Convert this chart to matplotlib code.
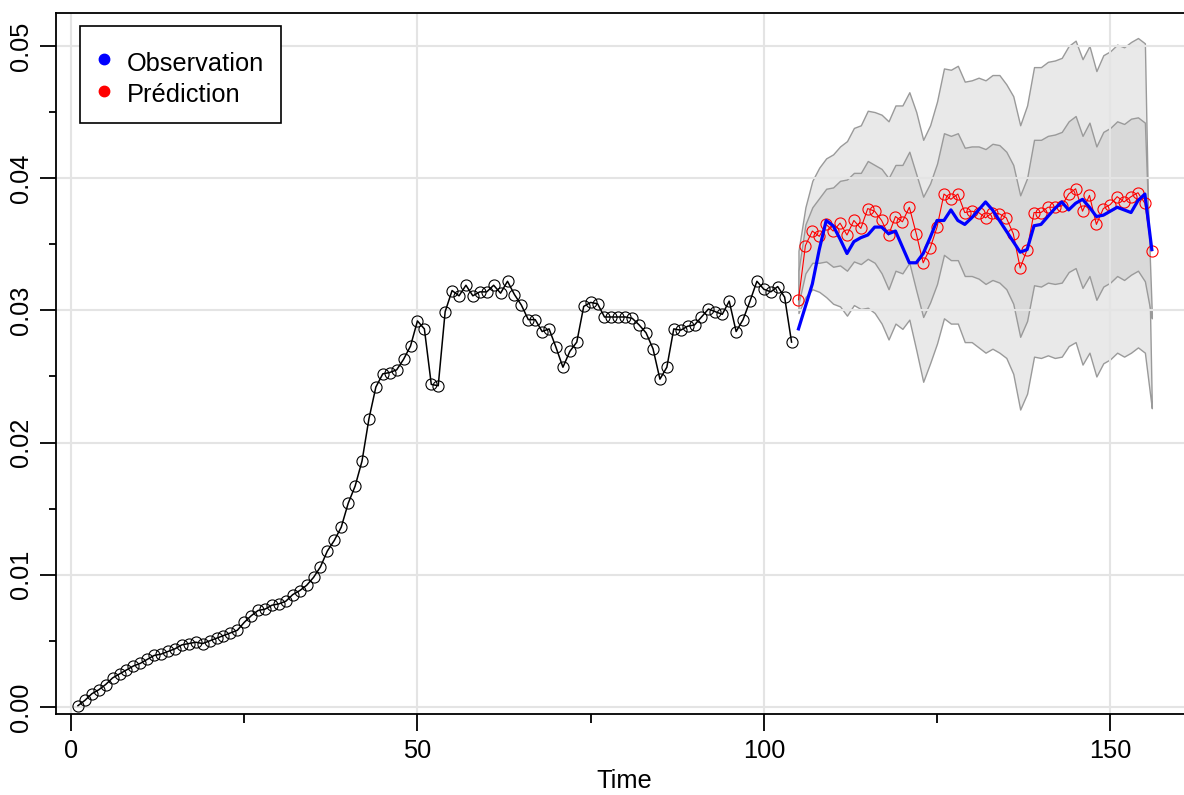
import matplotlib
matplotlib.use("Agg")
import matplotlib.pyplot as plt
from matplotlib.lines import Line2D
from matplotlib.patches import Rectangle
import numpy as np

plt.rcParams['font.family'] = ['Liberation Sans', 'DejaVu Sans']

# ---- historical series (t = 1..104) ----
hist_time = list(range(1, 105))
hist_values = [
    0.0001, 0.0005, 0.0010, 0.0013, 0.0017, 0.0022, 0.0025, 0.0028, 0.0031, 0.0033,
    0.0036, 0.0039, 0.0040, 0.0042, 0.0044, 0.0047, 0.0048, 0.0049, 0.0048, 0.0050,
    0.0052, 0.0054, 0.0056, 0.0058, 0.0064, 0.0069, 0.0073, 0.0074, 0.0077, 0.0078,
    0.0080, 0.0085, 0.0088, 0.0092, 0.0098, 0.0106, 0.0118, 0.0126, 0.0136, 0.0154,
    0.0167, 0.0186, 0.0218, 0.0242, 0.0252, 0.0253, 0.0255, 0.0263, 0.0273, 0.0292,
    0.0286, 0.0244, 0.0243, 0.0299, 0.0315, 0.0311, 0.0319, 0.0311, 0.0314, 0.0314,
    0.0319, 0.0313, 0.0322, 0.0312, 0.0304, 0.0293, 0.0293, 0.0284, 0.0286, 0.0272,
    0.0257, 0.0269, 0.0276, 0.0303, 0.0306, 0.0305, 0.0295, 0.0295, 0.0295, 0.0295,
    0.0294, 0.0289, 0.0283, 0.0271, 0.0248, 0.0257, 0.0286, 0.0285, 0.0288, 0.0289,
    0.0295, 0.0301, 0.0299, 0.0297, 0.0307, 0.0284, 0.0293, 0.0307, 0.0322, 0.0316,
    0.0314, 0.0318, 0.0310, 0.0276,
]

# ---- forecast horizon (t = 105..156) ----
fc_time = list(range(105, 157))
prediction = [
    0.0308, 0.0349, 0.0360, 0.0356, 0.0365, 0.0360, 0.0366, 0.0357, 0.0368, 0.0362,
    0.0377, 0.0375, 0.0368, 0.0357, 0.0371, 0.0367, 0.0378, 0.0358, 0.0336, 0.0347,
    0.0363, 0.0388, 0.0384, 0.0388, 0.0374, 0.0375, 0.0374, 0.0370, 0.0374, 0.0373,
    0.0370, 0.0358, 0.0332, 0.0346, 0.0374, 0.0374, 0.0378, 0.0378, 0.0379, 0.0388,
    0.0392, 0.0375, 0.0387, 0.0365, 0.0377, 0.0380, 0.0386, 0.0382, 0.0386, 0.0389,
    0.0381, 0.0345,
]
observation = [
    0.0286, 0.0303, 0.0320, 0.0346, 0.0368, 0.0364, 0.0354, 0.0343, 0.0352, 0.0355,
    0.0357, 0.0363, 0.0363, 0.0358, 0.0360, 0.0348, 0.0336, 0.0336, 0.0343, 0.0355,
    0.0368, 0.0368, 0.0376, 0.0368, 0.0365, 0.0370, 0.0376, 0.0382, 0.0376, 0.0368,
    0.0360, 0.0352, 0.0344, 0.0346, 0.0364, 0.0365, 0.0371, 0.0377, 0.0382, 0.0376,
    0.0381, 0.0384, 0.0378, 0.0371, 0.0372, 0.0375, 0.0378, 0.0376, 0.0374, 0.0383,
    0.0388, 0.0346,
]
outer_upper = [
    0.0345, 0.0378, 0.0398, 0.0408, 0.0415, 0.0418, 0.0424, 0.0428, 0.0438, 0.0440,
    0.0451, 0.0450, 0.0448, 0.0443, 0.0455, 0.0455, 0.0465, 0.0450, 0.0429, 0.0440,
    0.0458, 0.0483, 0.0482, 0.0485, 0.0473, 0.0474, 0.0476, 0.0474, 0.0478, 0.0478,
    0.0471, 0.0462, 0.0440, 0.0455, 0.0484, 0.0484, 0.0488, 0.0489, 0.0491, 0.0500,
    0.0504, 0.0490, 0.0500, 0.0481, 0.0493, 0.0496, 0.0501, 0.0499, 0.0503, 0.0506,
    0.0502, 0.0228,
]
inner_upper = [
    0.0330, 0.0365, 0.0378, 0.0385, 0.0392, 0.0393, 0.0398, 0.0399, 0.0404, 0.0404,
    0.0413, 0.0410, 0.0407, 0.0400, 0.0410, 0.0410, 0.0420, 0.0403, 0.0386, 0.0396,
    0.0411, 0.0434, 0.0432, 0.0434, 0.0423, 0.0424, 0.0424, 0.0422, 0.0426, 0.0425,
    0.0420, 0.0410, 0.0387, 0.0400, 0.0429, 0.0429, 0.0432, 0.0433, 0.0435, 0.0443,
    0.0447, 0.0432, 0.0442, 0.0424, 0.0435, 0.0438, 0.0443, 0.0441, 0.0445, 0.0446,
    0.0442, 0.0298,
]
inner_lower = [
    0.0305, 0.0328, 0.0336, 0.0336, 0.0337, 0.0333, 0.0334, 0.0330, 0.0337, 0.0335,
    0.0339, 0.0336, 0.0328, 0.0316, 0.0330, 0.0328, 0.0336, 0.0315, 0.0295, 0.0306,
    0.0320, 0.0342, 0.0338, 0.0338, 0.0326, 0.0326, 0.0324, 0.0320, 0.0323, 0.0321,
    0.0316, 0.0305, 0.0280, 0.0292, 0.0319, 0.0318, 0.0321, 0.0320, 0.0321, 0.0329,
    0.0332, 0.0317, 0.0326, 0.0308, 0.0318, 0.0321, 0.0326, 0.0323, 0.0327, 0.0330,
    0.0322, 0.0294,
]
outer_lower = [
    0.0298, 0.0310, 0.0316, 0.0314, 0.0310, 0.0305, 0.0303, 0.0296, 0.0304, 0.0301,
    0.0302, 0.0298, 0.0290, 0.0278, 0.0290, 0.0286, 0.0293, 0.0270, 0.0246, 0.0260,
    0.0275, 0.0294, 0.0290, 0.0290, 0.0276, 0.0276, 0.0272, 0.0268, 0.0271, 0.0268,
    0.0264, 0.0252, 0.0225, 0.0237, 0.0265, 0.0264, 0.0266, 0.0264, 0.0265, 0.0273,
    0.0276, 0.0259, 0.0268, 0.0250, 0.0260, 0.0263, 0.0268, 0.0265, 0.0268, 0.0272,
    0.0268, 0.0226,
]

x_major = [0, 50, 100, 150]
x_minor = [25, 75, 125]
y_major = [0.00, 0.01, 0.02, 0.03, 0.04, 0.05]
y_minor = [0.005, 0.015, 0.025, 0.035, 0.045]
legend_labels = ["Observation", "Prédiction"]

W, H = 1184, 795
fig = plt.figure(figsize=(W / 100, H / 100), dpi=100)
ax_l, ax_r, ax_t, ax_b = 56, 1192, 13.3, 714
ax = fig.add_axes([ax_l / W, (H - ax_b) / H, (ax_r - ax_l) / W, (ax_b - ax_t) / H])
ax.set_xlim(-2.17, 161.8)
ax.set_ylim(-0.00053, 0.05247)

FS = 18.3

# prediction intervals
ax.fill_between(fc_time, outer_lower, outer_upper, facecolor="#e9e9e9",
                edgecolor="#9a9a9a", linewidth=1.0, zorder=1)
ax.fill_between(fc_time, inner_lower, inner_upper, facecolor="#d9d9d9",
                edgecolor="#9a9a9a", linewidth=1.0, zorder=1.5)

# grid
for gx in x_major:
    ax.axvline(gx, color="#e4e4e4", linewidth=1.5, zorder=2)
for gy in y_major:
    ax.axhline(gy, color="#e4e4e4", linewidth=1.5, zorder=2)

# historical series
ax.plot(hist_time, hist_values, color="black", linewidth=1.1, zorder=3,
        marker="o", markersize=8.0, markerfacecolor="none",
        markeredgecolor="black", markeredgewidth=0.8)

# prediction and observation
ax.plot(fc_time, prediction, color="red", linewidth=0.8, zorder=4,
        marker="o", markersize=8.0, markerfacecolor="none",
        markeredgecolor="red", markeredgewidth=0.8)
ax.plot(fc_time, observation, color="#0000ff", linewidth=2.3, zorder=5)

# axes styling
for side in ["right"]:
    ax.spines[side].set_visible(False)
for side in ["left", "bottom", "top"]:
    ax.spines[side].set_linewidth(1.3)
    ax.spines[side].set_color("black")

ax.set_xticks(x_major)
ax.set_xticklabels([str(v) for v in x_major])
ax.set_xticks(x_minor, minor=True)
ax.set_yticks(y_major)
ax.set_yticklabels([f"{v:.2f}" for v in y_major], rotation=90, va="center")
ax.set_yticks(y_minor, minor=True)
ax.tick_params(axis="x", which="major", length=12, width=1.3, labelsize=FS, pad=6)
ax.tick_params(axis="x", which="minor", length=6.5, width=1.3)
ax.tick_params(axis="y", which="major", length=11.5, width=1.3, labelsize=FS, pad=5)
ax.tick_params(axis="y", which="minor", length=5, width=1.3)

ax.set_xlabel("Time", fontsize=FS, labelpad=4)

# legend box drawn in pixel positions
def fx(px):
    return px / W

def fy(py):
    return 1 - py / H

fig.add_artist(Rectangle((fx(80), fy(123)), fx(281) - fx(80), fy(26) - fy(123),
                         facecolor="white", edgecolor="black", linewidth=1.2,
                         transform=fig.transFigure, zorder=10))
legend_colors = ["#0000ff", "red"]
for i, (lab, col) in enumerate(zip(legend_labels, legend_colors)):
    yc = 59 + 32 * i
    fig.add_artist(Line2D([fx(104)], [fy(yc)], marker="o", markersize=7.5,
                          color=col, linestyle="none",
                          transform=fig.transFigure, zorder=11))
    fig.text(fx(127), fy(71 + 31 * i), lab, fontsize=FS, ha="left",
             va="baseline", zorder=11)

fig.savefig("out.png", dpi=100)
